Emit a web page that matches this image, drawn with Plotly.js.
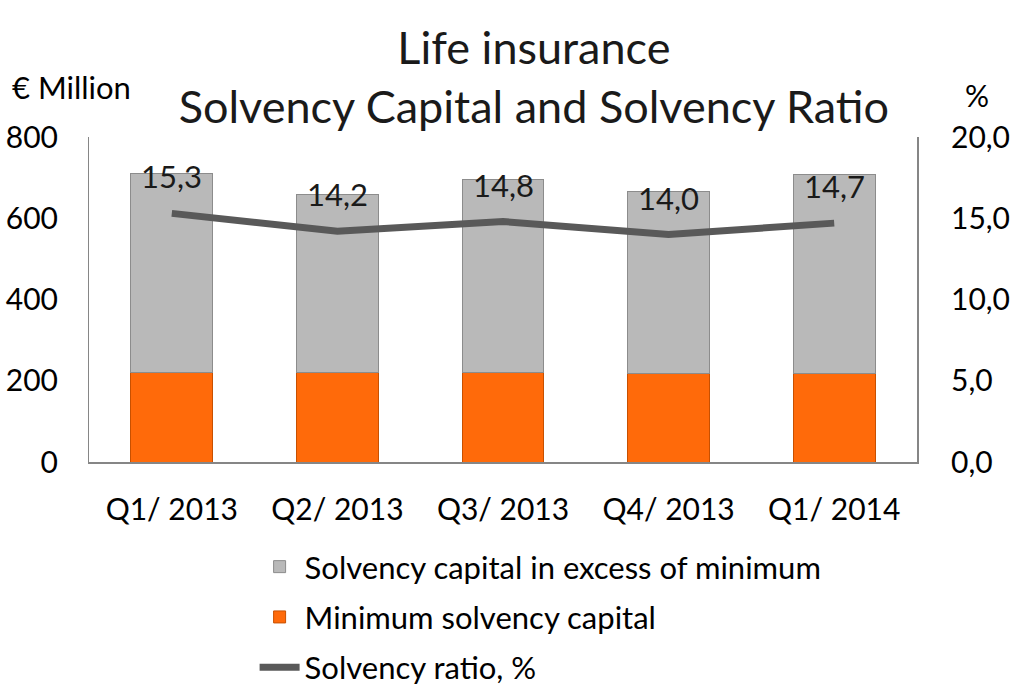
<!DOCTYPE html>
<html>
<head>
<meta charset="utf-8">
<script src="https://cdn.plot.ly/plotly-3.0.1.min.js"></script>
<style>html,body{margin:0;padding:0;background:#fff;}#chart{width:1015px;height:699px;}</style>
</head>
<body>
<div id="chart"></div>
<script>
const categories = ["Q1/ 2013", "Q2/ 2013", "Q3/ 2013", "Q4/ 2013", "Q1/ 2014"];
const minimumCapital = [220, 220, 221, 217, 217];
const excessCapital = [490, 439, 474, 448, 490];
const solvencyRatio = [15.3, 14.2, 14.8, 14.0, 14.7];
const leftTicks = [0, 200, 400, 600, 800];
const rightTicks = [0, 5, 10, 15, 20];

const FONT = "Lato, 'Open Sans', sans-serif";

const traces = [
  {
    type: "bar", name: "Minimum solvency capital", x: categories, y: minimumCapital,
    marker: {color: "#ff6a0a", line: {color: "#c85000", width: 1}},
    legendrank: 2, legendgroup: "b", hoverinfo: "skip"
  },
  {
    type: "bar", name: "Solvency capital in excess of minimum", x: categories, y: excessCapital,
    marker: {color: "#b9b9b9", line: {color: "#8c8c8c", width: 1}},
    legendrank: 1, legendgroup: "a", hoverinfo: "skip"
  },
  {
    type: "scatter", mode: "lines", name: "Solvency ratio, %", x: categories, y: solvencyRatio,
    yaxis: "y2", line: {color: "#595959", width: 7}, legendrank: 3, legendgroup: "c", hoverinfo: "skip"
  }
];

const annotations = solvencyRatio.map((v, i) => ({
  x: categories[i], y: v, xref: "x", yref: "y2",
  text: v.toFixed(1).replace(".", ","), showarrow: false, yshift: 37,
  font: {family: FONT, size: 31, color: "#1a1a1a"}
}));
annotations.push({
  xref: "paper", yref: "paper", x: -0.0954, y: 1.154, xanchor: "left", yanchor: "middle",
  text: "€ Million", showarrow: false, font: {family: FONT, size: 31, color: "#000"}
});
annotations.push({
  xref: "paper", yref: "paper", x: 1.072, y: 1.129, xanchor: "center", yanchor: "middle",
  text: "%", showarrow: false, font: {family: FONT, size: 30, color: "#000"}
});

const layout = {
  width: 1015, height: 699,
  paper_bgcolor: "#fff", plot_bgcolor: "#fff",
  margin: {l: 89, r: 98, t: 137, b: 237},
  font: {family: FONT, color: "#000", size: 30},
  separators: ",.",
  title: {
    text: "Life insurance<br>Solvency Capital and Solvency Ratio",
    x: 0.526, xanchor: "center", xref: "container",
    y: 0.908, yanchor: "middle", yref: "container",
    font: {family: FONT, size: 45, color: "#1a1a1a"},
    automargin: false
  },
  barmode: "stack", bargap: 0.505,
  showlegend: true,
  legend: {
    orientation: "v", x: 0.2, xanchor: "left", y: 0.2275, yanchor: "top", yref: "container",
    traceorder: "grouped", tracegroupgap: 7,
    font: {family: FONT, size: 31, color: "#000"},
    itemwidth: 40
  },
  xaxis: {
    showline: true, linecolor: "#868686", linewidth: 2, ticks: "", showgrid: false,
    tickfont: {family: FONT, size: 30}, ticklabelstandoff: 20, automargin: false
  },
  yaxis: {
    range: [0, 800], tickvals: leftTicks, showline: true, linecolor: "#868686", linewidth: 1,
    showgrid: false, zeroline: false, ticks: "", tickfont: {family: FONT, size: 30},
    ticklabelstandoff: 24, automargin: false
  },
  yaxis2: {
    range: [0, 20], tickvals: rightTicks, tickformat: ".1f", overlaying: "y", side: "right",
    showline: true, linecolor: "#868686", linewidth: 2, showgrid: false, zeroline: false, ticks: "",
    tickfont: {family: FONT, size: 30}, ticklabelstandoff: 26, automargin: false
  },
  annotations: annotations
};

Plotly.newPlot("chart", traces, layout, {displayModeBar: false, staticPlot: true});
</script>
</body>
</html>
